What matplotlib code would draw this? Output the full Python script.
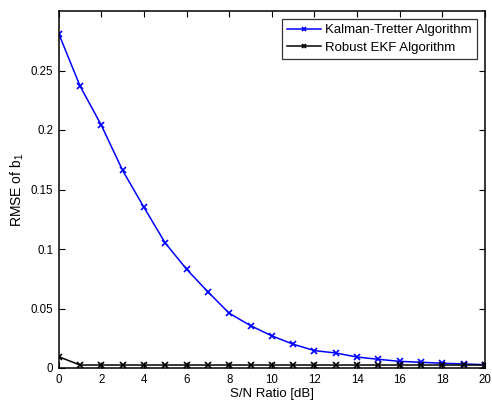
# -*- coding:UTF-8 -*-
# RMSE of b1 versus S/N ratio, MATLAB-like style
import matplotlib
matplotlib.use("Agg")
import matplotlib.pyplot as plt

# ---------------------------------------------------#
# data
# ---------------------------------------------------#
snr_db = list(range(0, 21))
rmse_kalman = [0.281, 0.237, 0.204, 0.166, 0.135, 0.105, 0.083, 0.064, 0.046, 0.0356,
               0.027, 0.020, 0.0146, 0.0126, 0.0092, 0.0073, 0.0056, 0.0048, 0.0040, 0.0034, 0.0028]
rmse_robust = [0.0095] + [0.0025] * 20
x_ticks = list(range(0, 21, 2))
y_ticks = [0, 0.05, 0.1, 0.15, 0.2, 0.25]
y_tick_labels = ["0", "0.05", "0.1", "0.15", "0.2", "0.25"]

plt.rcParams["font.family"] = ["Liberation Sans", "DejaVu Sans"]
plt.rcParams["mathtext.fontset"] = "custom"
plt.rcParams["mathtext.rm"] = "Liberation Sans"
plt.rcParams["mathtext.it"] = "Liberation Sans"

fig = plt.figure(figsize=(4.92, 4.01), dpi=100)
ax = fig.add_axes([58.7 / 492, 1 - 368 / 401, (485 - 58.7) / 492, (368 - 11) / 401])

ax.plot(snr_db, rmse_kalman, color="blue", marker="x", markersize=4.5, markeredgewidth=1.2,
        linewidth=1.1, label="Kalman-Tretter Algorithm")
ax.plot(snr_db, rmse_robust, color="black", marker="x", markersize=4.5, markeredgewidth=1.2,
        linewidth=1.1, label="Robust EKF Algorithm")

ax.set_xlim(0, 20)
ax.set_ylim(0, 0.3)
ax.set_xticks(x_ticks)
ax.set_yticks(y_ticks)
ax.set_yticklabels(y_tick_labels)
ax.tick_params(direction="in", top=True, right=True, labelsize=8.3, length=4, pad=4)
for sp in ax.spines.values():
    sp.set_linewidth(1.1)

ax.set_xlabel("S/N Ratio [dB]", fontsize=9.5, labelpad=1.5)
ax.set_ylabel("RMSE of b$_1$", fontsize=10, labelpad=3)

leg = ax.legend(loc="upper right", fontsize=9.5, fancybox=False, edgecolor="black",
                handlelength=2.6, handletextpad=0.3, borderpad=0.4, labelspacing=0.4,
                borderaxespad=0.6, markerscale=0.7)
leg.get_frame().set_linewidth(0.9)

plt.savefig("out.png", dpi=100)
plt.close()
